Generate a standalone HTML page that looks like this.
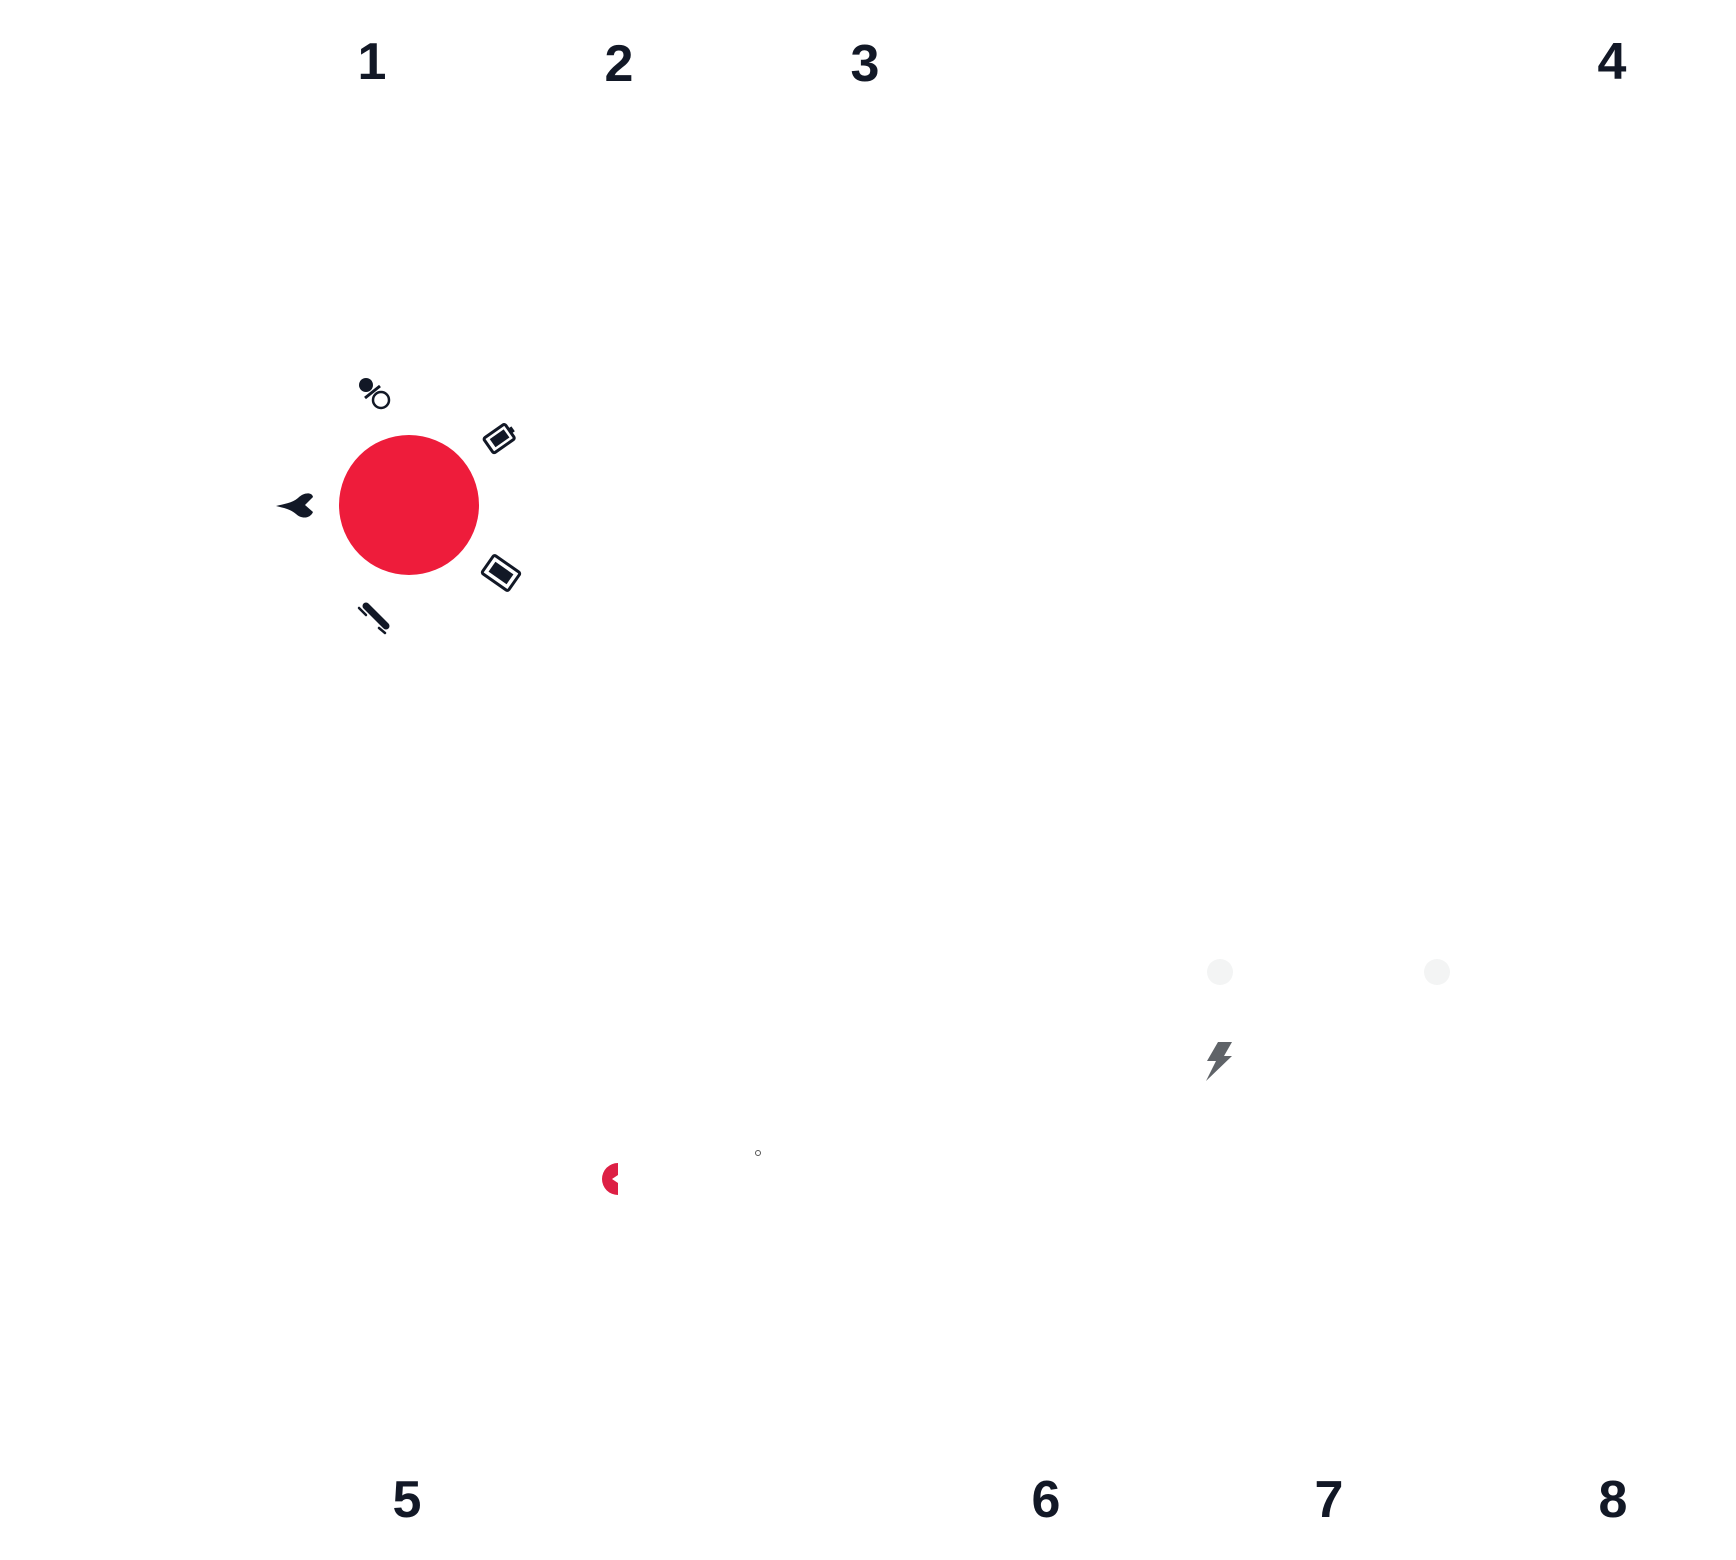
<!DOCTYPE html>
<html><head><meta charset="utf-8"><style>
html,body{margin:0;padding:0;background:#fff;}
body{width:1736px;height:1560px;position:relative;overflow:hidden;font-family:"Liberation Sans",sans-serif;}
.n{position:absolute;font-weight:bold;font-size:52px;color:#121826;line-height:1;width:80px;text-align:center;}
svg{position:absolute;left:0;top:0;}
</style></head><body>
<div class="n" style="left:332px;top:36px">1</div>
<div class="n" style="left:579px;top:38px">2</div>
<div class="n" style="left:825px;top:38px">3</div>
<div class="n" style="left:1572px;top:36px">4</div>
<div class="n" style="left:367px;top:1474px">5</div>
<div class="n" style="left:1006px;top:1474px">6</div>
<div class="n" style="left:1289px;top:1474px">7</div>
<div class="n" style="left:1573px;top:1474px">8</div>
<svg width="1736" height="1560" viewBox="0 0 1736 1560">
<circle cx="409" cy="505" r="70" fill="#ee1c3b"/>
<g fill="#121826" stroke="#121826">
<circle cx="366" cy="385" r="7" stroke="none"/>
<line x1="365" y1="398" x2="380" y2="386" stroke-width="3"/>
<circle cx="381" cy="400" r="8" fill="none" stroke-width="2.5"/>
</g>
<g transform="translate(500,438) rotate(-35)">
<rect x="-14" y="-9" width="26" height="18" rx="2" fill="none" stroke="#121826" stroke-width="3"/>
<rect x="-9" y="-5" width="17" height="10" fill="#121826"/>
<rect x="13" y="-3" width="3" height="6" fill="#121826"/>
</g>
<path d="M276,506 C284,504 292,503 298,498 C304,492 312,492 313,497 L305,505 L313,512 C310,519 301,519 296,514 C290,509 284,508 276,506 Z" fill="#121826"/>
<g transform="translate(501,573) rotate(35)">
<rect x="-16" y="-11" width="32" height="22" rx="2" fill="none" stroke="#121826" stroke-width="3"/>
<rect x="-11" y="-6" width="22" height="12" fill="#121826"/>
</g>
<g stroke="#121826" stroke-linecap="round">
<line x1="366" y1="606" x2="386" y2="626" stroke-width="7"/>
<line x1="359" y1="608" x2="366" y2="615" stroke-width="2.5"/>
<line x1="379" y1="628" x2="385" y2="633" stroke-width="2.5"/>
</g>
<circle cx="1220" cy="972" r="13" fill="#f3f4f4"/>
<circle cx="1437" cy="972" r="13" fill="#f3f4f4"/>
<path d="M1218,1042 L1232,1042 L1224,1056 L1232,1056 L1206,1081 L1216,1061 L1207,1061 Z" fill="#5f6368"/>
<path d="M618,1163 A16,16 0 0 0 618,1195 L618,1183 L612,1179 L618,1175 Z" fill="#dd1f44"/>
<circle cx="758" cy="1153" r="2.5" fill="none" stroke="#555" stroke-width="1"/>
</svg>
</body></html>
